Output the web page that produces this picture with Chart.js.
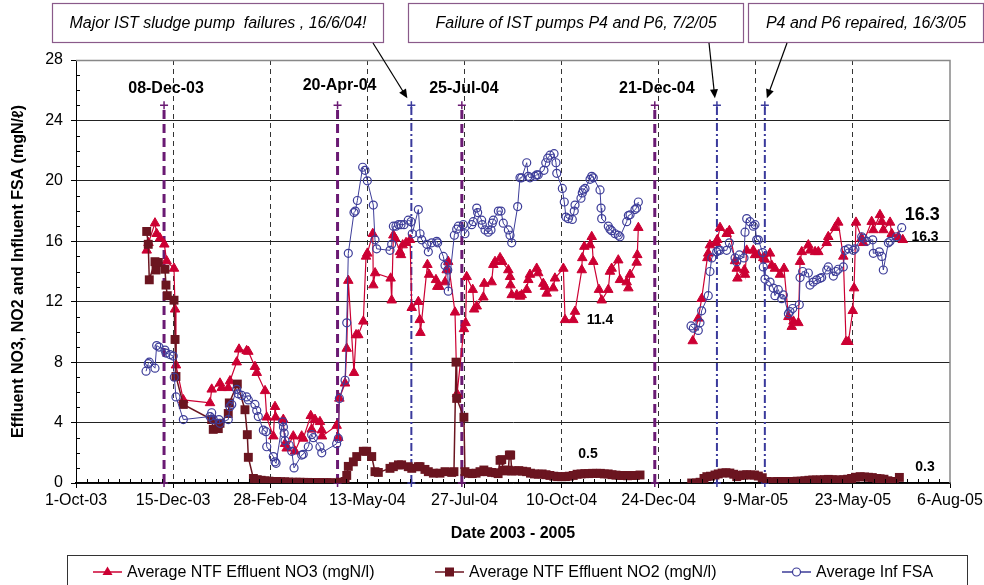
<!DOCTYPE html>
<html>
<head>
<meta charset="utf-8">
<script src="https://cdn.jsdelivr.net/npm/chart.js@4.4.1/dist/chart.umd.min.js"></script>
<style>
  html, body { margin: 0; padding: 0; background: #fff; }
</style>
</head>
<body>
<canvas id="chart" width="984" height="585"></canvas>
<script>
//---- data (days counted from 1-Oct-03)
const no3Days = [54.6,56.0,61.0,62.3,64.9,68.2,70.0,75.7,76.5,77.2,
  82.9,103.5,104.8,111.2,112.5,117.6,118.9,124.1,125.9,131.8,
  133.1,138.2,139.6,146.0,147.3,152.4,153.7,154.1,160.1,161.4,
  162.7,167.8,169.1,174.3,175.5,181.3,182.0,184.6,188.4,189.8,
  190.0,201.3,202.6,203.4,207.8,209.1,210.3,214.7,216.3,218.0,
  221.9,224.0,225.0,229.2,229.6,231.0,243.0,243.8,245.1,246.4,
  250.2,251.0,252.3,254.9,258.0,259.3,264.4,265.5,266.0,271.4,
  272.7,278.0,279.0,280.6,285.0,286.3,287.5,292.7,294.3,299.6,
  300.9,301.7,306.4,307.5,309.5,314.6,315.3,321.0,322.3,323.6,
  327.5,329.2,333.9,335.2,335.6,336.5,340.4,342.9,344.2,348.1,
  349.3,350.6,355.8,357.0,360.9,362.2,363.5,368.6,369.9,376.4,
  377.7,384.1,385.4,390.6,391.0,392.6,397.0,398.3,399.5,403.9,
  406.0,411.1,412.4,413.7,418.8,420.1,425.3,426.6,427.9,433.0,
  433.5,434.3,
  455,
  476.3,480.6,483.2,487.6,488.3,489.6,494.3,495.3,497.4,502.5,
  504.6,509.0,510.3,510.8,516.2,516.7,518.0,523.1,524.4,527.0,
  530.8,532.1,536.0,537.3,539.8,543.7,546.8,550.2,552.8,554.1,
  557.9,559.2,560.5,565.6,566.9,570.8,573.3,579.8,581.0,586.2,
  588.7,592.6,594.7,596.5,599.9,600.9,602.4,606.8,608.0,614.5,
  615.8,620.9,622.3,623.5,628.7,630.0,635.1,638.5];
const no3Vals = [15.4,15.9,17.2,16.5,16.2,15.8,14.7,14.2,11.5,7.8,
  5.5,5.3,6.2,6.6,6.3,6.3,6.75,8.0,8.85,8.75,
  8.7,7.7,7.3,6.1,4.35,3.1,5.05,4.35,4.2,2.6,
  2.3,3.1,2.1,3.1,2.95,4.45,3.55,4.2,4.05,3.5,
  3.1,3.8,3.0,5.6,6.6,8.9,13.4,7.3,9.8,9.8,
  10.7,15.0,15.2,16.5,13.1,13.9,13.55,12.1,16.4,16.2,
  15.3,15.1,15.75,15.9,16.1,11.6,12.0,10.8,9.95,14.45,
  13.8,13.45,13.0,13.0,13.3,14.1,14.65,11.3,5.9,10.2,
  10.6,13.65,12.8,11.5,11.7,12.3,13.2,13.3,14.45,14.65,
  14.9,14.65,14.1,13.65,13.1,12.45,12.45,12.35,12.45,12.8,
  13.45,13.8,14.2,13.9,13.2,13.0,12.55,12.9,13.55,14.2,
  10.8,10.8,11.35,14.1,14.9,15.65,15.75,16.3,14.65,12.8,
  12.1,12.8,14.0,14.2,14.75,13.45,13.3,12.9,13.8,14.6,
  15.1,16.9,
  null,
  9.4,10.9,12.2,14.9,15.2,15.75,15.9,16.1,16.9,16.5,
  16.7,14.7,14.2,13.55,14.1,13.8,15.4,15.4,15.1,15.1,
  14.9,14.8,15.2,14.4,14.2,13.8,14.2,11.0,10.35,10.7,
  10.6,14.65,15.3,15.75,15.4,15.3,15.3,15.9,16.3,16.9,
  17.25,15.0,9.35,9.35,11.4,12.9,17.25,16.2,15.9,17.3,
  16.75,17.75,17.3,16.75,17.25,16.5,16.3,16.1];

const no2Days = [54.6,55.8,56.6,61.0,61.8,63.6,68.7,69.5,70.5,75.7,
  76.5,77.2,82.9,104.8,106.0,109.9,111.2,117.6,118.4,124.6,
  130.5,132.3,133.1,
  137,140,143,146,149,152,155,158,161,164,
  167,170,173,176,179,182,185,188,191,194,
  197,201.3,
  204,207.8,209.1,210.3,214.2,216.8,221.9,224.5,228.4,230.9,
  233.5,242.5,245.1,249.0,251.5,256.6,259.3,264.4,265.7,269.5,
  272.1,276.0,281.1,285.0,290.2,291.9,293.5,294.0,299.6,300.4,
  303,306,309,312,315,318,321,324,326,327.5,
  328.8,330,332,333.9,334.7,335.7,336.5,339,342,345,
  348,351,354,357,360,363,366,369,372,375,
  378,381,384,387,390,393,396,399,402,405,
  408,411,414,417,420,423,426,429,432,435.6,
  455,
  475.5,479,482,485,487.2,490,493.5,496,499,502,
  505,508,510.3,513,515.4,518,521,524,527,530,
  533.4,536,539,542,545,548,551,554,557,560,
  563,566,569,572,575,578,581,584,587,590,
  593,596,599,602,605.6,609,612,615,618.5,621,
  624,627,629,632,635.9];
const no2Vals = [16.65,15.8,13.45,14.65,14.1,14.6,14.15,13.1,12.4,12.1,
  9.5,7.05,5.2,4.2,3.55,3.6,3.95,4.6,5.3,6.55,
  4.85,3.2,1.7,
  0.3,0.22,0.18,0.15,0.12,0.1,0.1,0.08,0.08,0.06,
  0.05,0.05,0.05,0.04,0.04,0.03,0.03,0.03,0.02,0.02,
  0.02,0.0,
  0.05,0.1,0.5,1.1,1.4,1.75,2.1,2.1,1.75,0.75,
  0.7,0.97,1.08,1.2,1.2,1.08,0.97,1.08,1.08,0.9,
  0.75,0.65,0.65,0.75,0.7,0.75,8.0,5.6,4.35,0.75,
  0.64,0.62,0.65,0.75,0.86,0.75,0.7,0.68,0.62,1.5,
  1.55,0.85,0.8,0.85,1.85,1.85,0.8,0.8,0.82,0.78,
  0.75,0.65,0.6,0.58,0.6,0.55,0.5,0.45,0.42,0.42,
  0.42,0.45,0.5,0.58,0.6,0.62,0.62,0.64,0.64,0.64,
  0.6,0.6,0.55,0.52,0.5,0.5,0.48,0.5,0.5,0.53,
  null,
  0.0,0.0,0.05,0.3,0.42,0.45,0.53,0.6,0.66,0.68,
  0.66,0.58,0.42,0.5,0.53,0.55,0.53,0.53,0.46,0.35,
  0.1,0.08,0.08,0.1,0.1,0.1,0.1,0.1,0.12,0.12,
  0.15,0.18,0.2,0.2,0.2,0.22,0.24,0.22,0.2,0.2,
  0.22,0.25,0.3,0.38,0.42,0.4,0.38,0.36,0.3,0.28,
  0.25,0.15,0.1,0.1,0.37];

const fsaDays = [54.1,55.8,56.6,61.0,62.3,64.1,68.7,69.5,72.6,75.1,
  75.9,77.2,82.9,103.5,104.8,106.0,110.4,111.2,117.6,118.9,
  120.3,124.1,125.3,128.0,131.8,133.1,138.2,139.6,140.8,144.7,
  146.7,147.3,152.4,153.7,154.5,159.6,160.2,160.8,161.4,164.7,
  166.6,168.4,174.3,175.5,179.4,182.0,183.3,188.4,189.8,201.3,
  202.6,203.4,207.8,209.1,210.3,214.7,215.7,217.3,221.4,223.2,
  225.0,229.6,230.9,232.2,242.5,243.8,245.1,247.1,249.1,251.0,
  253.3,256.6,258.7,259.7,264.4,265.7,267.0,270.9,272.1,274.7,
  278.6,279.3,283.7,285.0,287.1,287.5,292.2,294.0,295.3,299.1,
  300.4,305.6,306.8,309.5,310.2,313.3,313.8,315.9,318.4,320.5,
  321.5,322.3,326.2,328.2,330.0,333.9,335.2,336.5,341.1,342.9,
  344.2,348.1,349.3,350.6,354.5,355.8,357.0,361.4,362.8,364.3,
  366.1,369.2,370.7,371.3,375.6,377.1,378.4,380.2,383.3,384.8,
  385.4,390.0,391.0,391.8,393.1,397.0,398.3,399.5,404.7,405.5,
  406.0,411.1,412.4,413.7,416.3,418.8,420.1,425.3,426.6,427.9,
  431.7,433.0,434.3,
  455,
  475.0,476.8,480.6,481.9,483.2,488.3,489.6,491.0,494.8,496.1,
  497.4,502.5,504.6,509.0,510.3,512.3,515.9,516.7,518.0,520.5,
  523.1,524.4,525.7,527.0,530.3,530.8,532.1,536.0,538.5,539.8,
  542.4,545.0,546.3,550.2,551.4,553.5,558.6,559.2,561.2,565.6,
  566.9,569.4,572.0,574.6,575.9,579.8,581.0,584.9,587.0,588.7,
  592.6,593.9,596.5,600.3,601.6,606.8,608.0,610.6,615.3,615.8,
  620.4,622.3,623.5,627.4,628.7,633.8,637.7];
const fsaVals = [7.4,7.9,8.0,7.6,9.1,9.0,8.8,8.6,8.5,8.4,
  7.0,5.7,4.2,4.4,4.65,4.2,4.2,3.95,4.2,5.05,
  5.2,6.2,5.9,5.8,5.7,5.5,5.2,4.8,4.4,3.5,
  3.4,2.4,1.75,1.4,1.3,4.05,3.7,3.3,2.8,2.5,
  2.1,1.0,1.85,1.9,2.4,3.2,3.0,2.4,2.0,2.6,
  2.95,5.6,6.8,10.6,15.2,17.9,18.0,18.7,20.9,20.7,
  20.0,18.4,16.1,15.5,15.4,15.8,17.0,17.0,17.1,17.1,
  17.1,17.4,17.3,16.5,18.1,16.5,16.1,15.8,15.3,15.9,
  16.0,15.9,15.0,14.4,14.1,12.7,16.4,16.8,17.0,17.1,
  16.5,17.1,17.3,18.2,17.9,17.4,17.1,16.75,16.6,16.75,
  17.2,17.4,18.0,18.0,17.2,16.75,16.4,15.9,18.3,20.2,
  20.2,21.2,20.3,20.2,20.3,20.4,20.4,20.7,21.2,21.5,
  21.7,21.8,21.2,20.5,19.5,18.6,17.6,17.5,17.45,18.0,
  18.4,18.85,19.2,19.4,19.5,20.1,20.3,20.2,19.4,18.2,
  17.5,17.0,16.8,16.7,16.5,16.4,16.3,17.3,17.7,17.75,
  18.1,18.2,18.6,
  null,
  10.4,10.25,10.1,10.6,11.4,12.4,14.0,14.9,15.3,15.4,
  15.4,15.4,15.9,14.9,14.65,15.1,14.9,16.6,17.5,17.3,
  17.0,17.1,16.1,16.1,15.25,14.3,13.5,13.3,12.9,12.4,
  12.8,12.2,12.45,11.2,11.35,11.55,11.8,13.6,14.0,13.9,
  13.1,13.3,13.45,13.55,13.6,14.1,14.3,13.7,14.0,14.15,
  14.3,15.4,15.5,15.4,15.5,16.3,16.2,16.0,16.1,15.2,
  15.3,15.0,14.1,15.9,16.0,16.3,16.9];

// process events (purple dashed) and pump events (blue dash-dot)
const eventDates = ['2003-12-08', '2004-04-20', '2004-07-25', '2004-12-21'];
const eventLabels = ['08-Dec-03', '20-Apr-04', '25-Jul-04', '21-Dec-04'];
const pumpDates = ['2004-06-16', '2005-02-07', '2005-03-16'];
const pumpNotes = ['Major IST sludge pump  failures , 16/6/04!', 'Failure of IST pumps P4 and P6, 7/2/05', 'P4 and P6 repaired, 16/3/05'];
const valueLabels = ['16.3', '16.3', '11.4', '0.5', '0.3'];

const DAY0 = Date.UTC(2003, 9, 1);
const MONTHS = ['Jan','Feb','Mar','Apr','May','Jun','Jul','Aug','Sep','Oct','Nov','Dec'];
function dayOf(iso) { return Math.round((Date.parse(iso) - DAY0) / 864e5); }
function fmtDay(d) {
  const t = new Date(DAY0 + d * 864e5);
  return t.getUTCDate() + '-' + MONTHS[t.getUTCMonth()] + '-' + String(t.getUTCFullYear()).slice(2);
}
function series(days, vals) { return days.map((d, i) => ({x: d, y: vals[i]})); }

const FONT = "'Liberation Sans', Arial, sans-serif";
const RED = '#CC0033';
const MAROON = '#6B1520';
const BLUE = '#3D3D99';
const PURPLE = '#6A1A73';
const PUMPBLUE = '#3A3A9C';

Chart.defaults.font.family = FONT;
Chart.defaults.color = '#000';

const eventSets = eventDates.map(s => ({
  data: [{x: dayOf(s), y: 0}, {x: dayOf(s), y: 25}],
  borderColor: PURPLE, borderWidth: 3, borderDash: [9, 5],
  pointStyle: 'cross', pointRadius: 4, pointBorderWidth: 1.5, pointBorderColor: PURPLE,
  clip: false, order: 5
}));
const pumpSets = pumpDates.map(s => ({
  data: [{x: dayOf(s), y: 0}, {x: dayOf(s), y: 25}],
  borderColor: PUMPBLUE, borderWidth: 2, borderDash: [8, 3, 2, 3],
  pointStyle: 'cross', pointRadius: 4, pointBorderWidth: 1.5, pointBorderColor: PUMPBLUE,
  clip: false, order: 5
}));

function marker(ctx, style, x, y, color) {
  ctx.fillStyle = color; ctx.strokeStyle = color; ctx.lineWidth = 1.2;
  ctx.beginPath();
  if (style === 'triangle') {
    ctx.moveTo(x, y - 5.5); ctx.lineTo(x + 5, y + 3); ctx.lineTo(x - 5, y + 3); ctx.closePath(); ctx.fill();
  } else if (style === 'rect') {
    ctx.rect(x - 4.5, y - 4.5, 9, 9); ctx.fill();
  } else {
    ctx.fillStyle = '#fff';
    ctx.arc(x, y, 4, 0, Math.PI * 2); ctx.fill(); ctx.stroke();
  }
}

const extras = {
  id: 'extras',
  afterDraw(chart) {
    const {ctx, chartArea: a, scales: {x, y}} = chart;
    ctx.save();
    // grey frame on top and right
    ctx.strokeStyle = '#888'; ctx.lineWidth = 1.5;
    ctx.beginPath();
    ctx.moveTo(a.left, a.top + 0.5); ctx.lineTo(a.right, a.top + 0.5); ctx.lineTo(a.right, a.bottom);
    ctx.stroke();

    // minor ticks
    ctx.strokeStyle = '#000'; ctx.lineWidth = 1;
    ctx.beginPath();
    for (let v = 1; v < 28; v++) {
      if (v % 4 === 0) continue;
      const py = Math.round(y.getPixelForValue(v)) + 0.5;
      ctx.moveTo(a.left, py); ctx.lineTo(a.left + 4, py);
    }
    for (let k = 1; k < 81; k++) {
      if (k % 9 === 0) continue;
      const px = Math.round(x.getPixelForValue(k * 75 / 9)) + 0.5;
      ctx.moveTo(px, a.bottom); ctx.lineTo(px, a.bottom - 4);
    }
    ctx.stroke();

    // event labels
    ctx.fillStyle = '#000';
    ctx.font = 'bold 16px ' + FONT;
    ctx.textAlign = 'center'; ctx.textBaseline = 'middle';
    const lift = [26.1, 26.3, 26.1, 26.1];
    eventDates.forEach((s, i) => {
      ctx.fillText(eventLabels[i], x.getPixelForValue(dayOf(s)) + 2, y.getPixelForValue(lift[i]));
    });

    // value labels
    const lab = [[653.6, 17.75, 18], [655.7, 16.3, 14], [404.7, 10.8, 14], [395.4, 1.92, 14], [655.7, 1.06, 14]];
    lab.forEach((l, i) => {
      ctx.font = 'bold ' + l[2] + 'px ' + FONT;
      ctx.fillText(valueLabels[i], x.getPixelForValue(l[0]), y.getPixelForValue(l[1]));
    });

    // note boxes with arrows
    const boxes = [[52, 3, 332, 39, 373, -4], [408, 3, 336, 39, 709, -2], [748, 3, 236, 39, 787, 2]];
    ctx.font = 'italic 16px ' + FONT;
    pumpDates.forEach((s, i) => {
      const [bx, by, bw, bh, ax, off] = boxes[i];
      ctx.fillStyle = '#fff';
      ctx.fillRect(bx, by, bw, bh);
      ctx.strokeStyle = '#8A5A8A'; ctx.lineWidth = 1.2;
      ctx.strokeRect(bx + 0.5, by + 0.5, bw - 1, bh);
      ctx.fillStyle = '#000';
      ctx.fillText(pumpNotes[i], bx + bw / 2, by + bh / 2 + 1);
      const ex = x.getPixelForValue(dayOf(s)) + off;
      const ey = y.getPixelForValue(25) - 7;
      const sy = by + bh + 1;
      const ang = Math.atan2(ey - sy, ex - ax);
      ctx.strokeStyle = '#000'; ctx.lineWidth = 1.2;
      ctx.beginPath(); ctx.moveTo(ax, sy); ctx.lineTo(ex - 6 * Math.cos(ang), ey - 6 * Math.sin(ang)); ctx.stroke();
      ctx.beginPath();
      ctx.moveTo(ex, ey);
      ctx.lineTo(ex - 9 * Math.cos(ang) + 4 * Math.sin(ang), ey - 9 * Math.sin(ang) - 4 * Math.cos(ang));
      ctx.lineTo(ex - 9 * Math.cos(ang) - 4 * Math.sin(ang), ey - 9 * Math.sin(ang) + 4 * Math.cos(ang));
      ctx.closePath(); ctx.fill();
    });

    // legend box
    ctx.strokeStyle = '#333'; ctx.lineWidth = 1;
    ctx.strokeRect(67.5, 555.5, 900, 40);
    const items = [[93, 'triangle', RED], [435, 'rect', MAROON], [782, 'circle', BLUE]];
    ctx.font = '16px ' + FONT; ctx.textAlign = 'left';
    items.forEach((it, i) => {
      const [lx, st, col] = it;
      const ly = 572;
      ctx.strokeStyle = col; ctx.lineWidth = 1.5;
      ctx.beginPath(); ctx.moveTo(lx, ly); ctx.lineTo(lx + 29, ly); ctx.stroke();
      marker(ctx, st, lx + 14.5, ly, col);
      ctx.fillStyle = '#000';
      ctx.fillText(chart.data.datasets[i].label, lx + 34, ly + 1);
    });
    ctx.restore();
  }
};

const chart = new Chart(document.getElementById('chart'), {
  type: 'line',
  data: {
    datasets: [
      {
        label: 'Average NTF Effluent NO3 (mgN/l)',
        data: series(no3Days, no3Vals),
        borderColor: RED, backgroundColor: RED, borderWidth: 1.2,
        pointStyle: 'triangle', pointRadius: 5.5, pointBorderWidth: 1,
        pointBackgroundColor: RED, pointBorderColor: RED, order: 3
      },
      {
        label: 'Average NTF Effluent NO2 (mgN/l)',
        data: series(no2Days, no2Vals),
        borderColor: MAROON, backgroundColor: MAROON, borderWidth: 1.5,
        pointStyle: 'rect', pointRadius: 6.3, pointBorderWidth: 0,
        pointBackgroundColor: MAROON, order: 2
      },
      {
        label: 'Average Inf FSA',
        data: series(fsaDays, fsaVals),
        borderColor: BLUE, backgroundColor: BLUE, borderWidth: 1,
        pointStyle: 'circle', pointRadius: 4, pointBorderWidth: 1.2,
        pointBackgroundColor: 'rgba(255,255,255,0)', pointBorderColor: BLUE, order: 1
      },
      ...eventSets,
      ...pumpSets
    ]
  },
  options: {
    responsive: false,
    animation: false,
    spanGaps: false,
    elements: { line: { tension: 0 } },
    layout: { padding: { top: 60, right: 34, left: 0, bottom: 0 } },
    plugins: { legend: { display: false }, tooltip: { enabled: false } },
    scales: {
      x: {
        type: 'linear', min: 0, max: 675,
        ticks: { stepSize: 75, autoSkip: false, maxRotation: 0, padding: 3,
          font: { size: 16 }, color: '#000', callback: v => fmtDay(v) },
        grid: {
          color: c => (c.tick && (c.tick.value === 0 || c.tick.value === 675)) ? 'rgba(0,0,0,0)' : '#333',
          lineWidth: 1, tickLength: 5, tickColor: '#000'
        },
        border: { color: '#000', width: 1.5, dash: [5, 4] },
        title: { display: true, text: 'Date 2003 - 2005', color: '#000',
          font: { size: 16, weight: 'bold' }, padding: { top: 0, bottom: 42 } },
        afterFit: s => { s.height = 102; s.paddingLeft = 0; s.paddingRight = 0; }
      },
      y: {
        min: 0, max: 28,
        ticks: { stepSize: 4, padding: 8, font: { size: 16 }, color: '#000' },
        grid: {
          color: c => (c.tick && c.tick.value === 28) ? '#888' : '#222',
          lineWidth: 1, tickLength: 5, tickColor: '#000'
        },
        border: { color: '#000', width: 1 },
        title: { display: true, text: 'Effluent NO3, NO2 and Influent FSA (mgN/\u2113)', color: '#000',
          font: { size: 16, weight: 'bold' }, padding: { top: 9, bottom: 0 } },
        afterFit: s => { s.width = 76; s.paddingTop = 0; s.paddingBottom = 0; }
      }
    }
  },
  plugins: [extras]
});
</script>
</body>
</html>
